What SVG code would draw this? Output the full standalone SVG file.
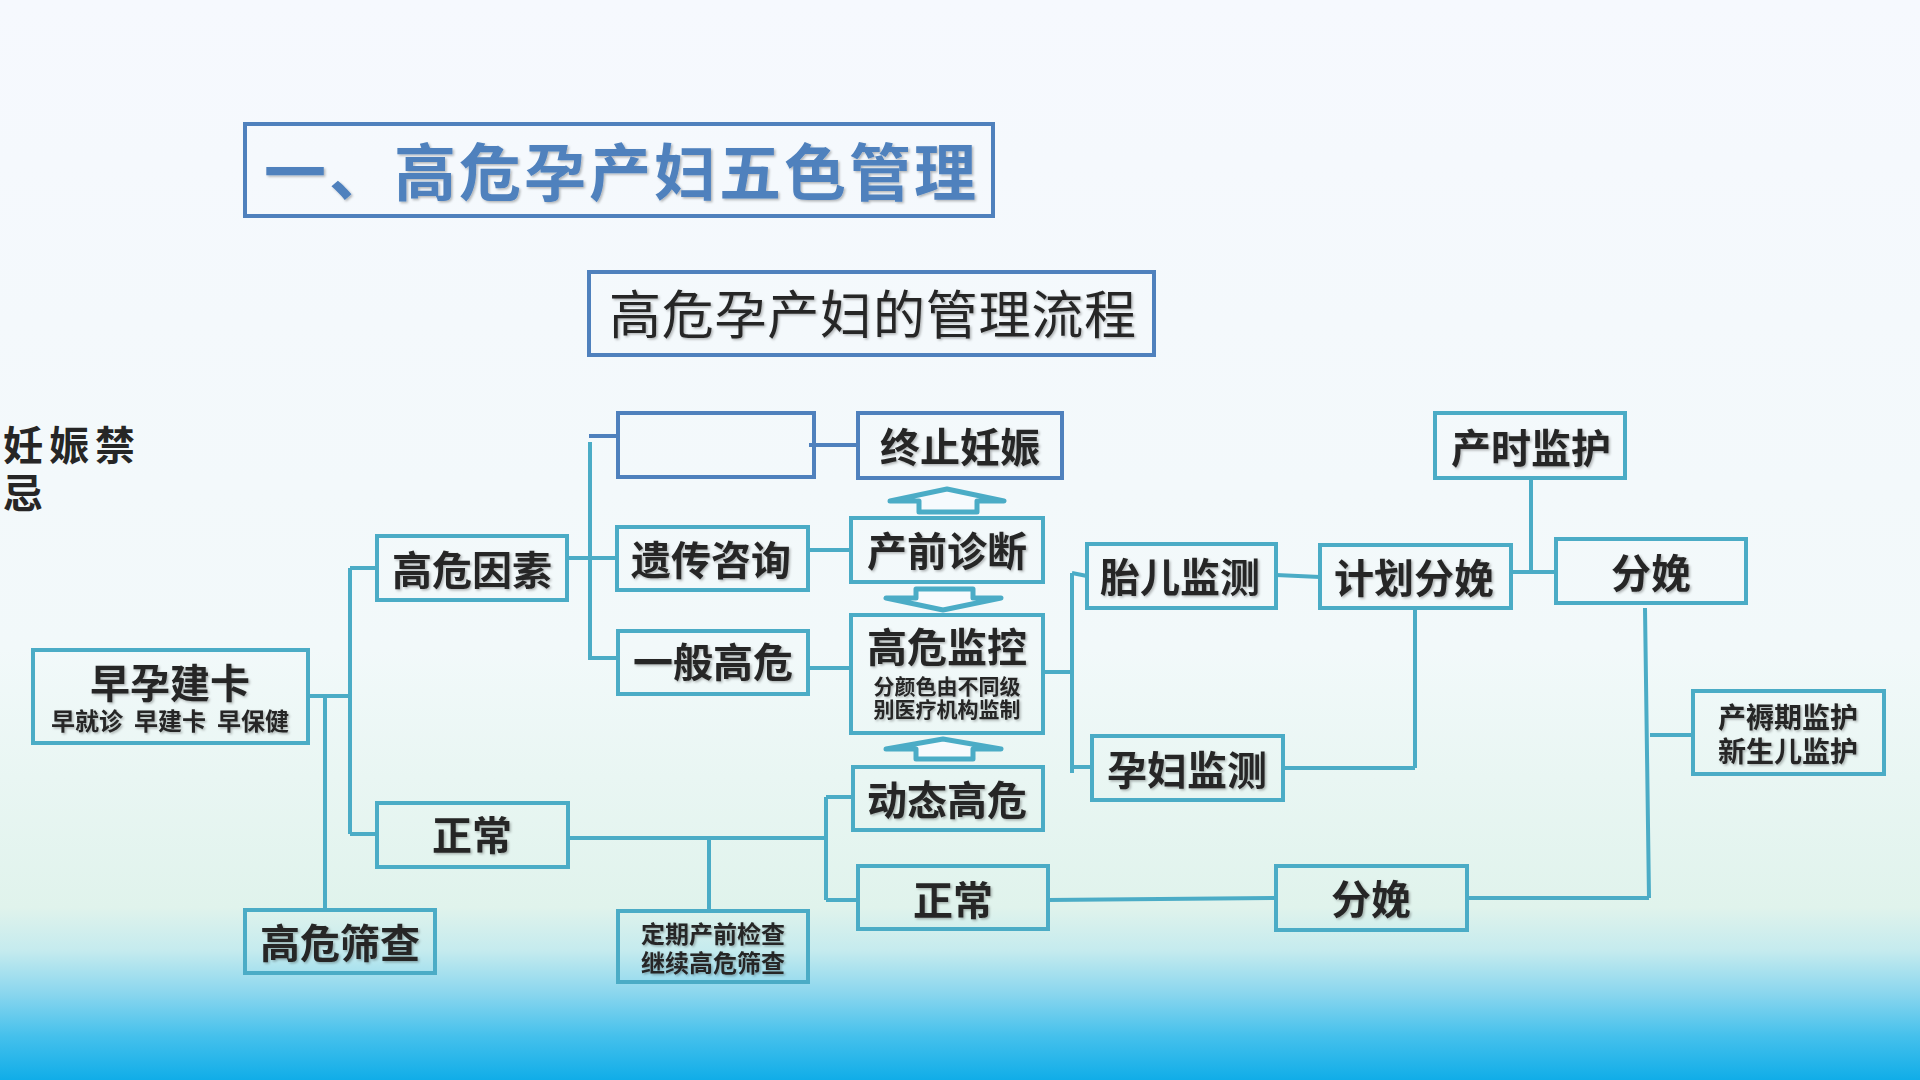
<svg xmlns="http://www.w3.org/2000/svg" width="1920" height="1080" viewBox="0 0 1920 1080">
  <defs>
    <linearGradient id="bg" x1="0" y1="0" x2="0" y2="1">
      <stop offset="0" stop-color="#f6f9fe"/>
      <stop offset="0.6" stop-color="#f2f9fa"/>
      <stop offset="0.84" stop-color="#e0f3ec"/>
      <stop offset="0.88" stop-color="#c5ebee"/>
      <stop offset="0.92" stop-color="#8ad6ee"/>
      <stop offset="0.96" stop-color="#44c0ec"/>
      <stop offset="1" stop-color="#10ade8"/>
    </linearGradient>
    <filter id="sh" x="-5%" y="-20%" width="110%" height="140%">
      <feDropShadow dx="1.5" dy="1.5" stdDeviation="1" flood-color="#000" flood-opacity="0.28"/>
    </filter>
    <style>
      .box { fill: none; stroke: #4bacc6; stroke-width: 4; }
      .bbox { fill: none; stroke: #4f81bd; stroke-width: 4; }
      .ln { fill: none; stroke: #4bacc6; stroke-width: 4; }
      .bln { fill: none; stroke: #4f81bd; stroke-width: 4; }
      .arr { fill: #f6fafd; stroke: #4bacc6; stroke-width: 5; stroke-linejoin: round; }
      text { font-family: 'Noto Sans CJK SC', 'Noto Sans', sans-serif; fill: #262626; dominant-baseline: central; }
      .t { font-size: 40px; font-weight: 700; text-anchor: middle; filter: url(#sh); }
      .s { font-size: 24px; font-weight: 700; text-anchor: middle; filter: url(#sh); }
    </style>
  </defs>
  <rect x="0" y="0" width="1920" height="1080" fill="url(#bg)"/>

  <g id="title">
    <rect x="245" y="124" width="748" height="92" class="bbox"/>
    <text x="264" y="169" font-size="62" font-weight="700" style="fill:#4f81bd" textLength="712" lengthAdjust="spacing" filter="url(#sh)">一、高危孕产妇五色管理</text>
  </g>
  <g id="subtitle">
    <rect x="589" y="272" width="565" height="83" class="bbox"/>
    <text x="609" y="311" font-size="52" font-weight="400" textLength="527" lengthAdjust="spacing" filter="url(#sh)">高危孕产妇的管理流程</text>
  </g>
  <g id="side-note">
    <text x="3" y="443" font-size="40" font-weight="700"><tspan x="3" y="443" letter-spacing="6">妊娠禁</tspan><tspan x="3" y="491">忌</tspan></text>
  </g>

  <g id="connectors">
    <path class="ln" d="M308 696 H350 M350 568 V834 M350 568 H377 M350 834 H377 M325 696 V910"/>
    <path class="ln" d="M567 558 H617 M590 442 V658 H618"/>
    <path class="bln" d="M589 436 H618 M809 445 H858"/>
    <path class="ln" d="M808 550 H852 M808 668 H852"/>
    <path class="ln" d="M1043 672 H1072 M1072 573 V773 M1072 573 L1087 576 M1072 767 H1092"/>
    <path class="ln" d="M1276 575 L1320 577 M1511 572 H1556 M1531 478 V572"/>
    <path class="ln" d="M1415 608 V768 M1282 768 H1415"/>
    <path class="ln" d="M1645 608 L1649 898 M1650 735 H1693 M1467 898 H1649"/>
    <path class="ln" d="M1048 900 L1276 898 M568 838 H826 M709 838 V911 M826 797 V900 M826 797 H853 M826 900 H858"/>
    <path class="arr" d="M947 489 L1004 501 L977 501 L977 512 L919 512 L919 501 L890 501 Z"/>
    <path class="arr" d="M916 589 L973 589 L973 598 L1001 598 L943 610 L886 598 L916 598 Z"/>
    <path class="arr" d="M943 739 L1001 749 L973 749 L973 759 L916 759 L916 749 L886 749 Z"/>
  </g>

  <g id="n-zaoyunjianka">
    <rect x="33" y="650" width="275" height="93" class="box"/>
    <text x="170" y="681" class="t">早孕建卡</text>
    <text x="170" y="719" class="s" xml:space="preserve">早就诊  早建卡  早保健</text>
  </g>
  <g id="n-gaoweiyinsu">
    <rect x="377" y="536" width="190" height="64" class="box"/>
    <text x="472" y="568" class="t">高危因素</text>
  </g>
  <g id="n-zhengchang1">
    <rect x="377" y="803" width="191" height="64" class="box"/>
    <text x="472" y="833" class="t">正常</text>
  </g>
  <g id="n-gaoweishaicha">
    <rect x="245" y="910" width="190" height="63" class="box"/>
    <text x="340" y="941" class="t">高危筛查</text>
  </g>
  <g id="n-empty">
    <rect x="618" y="413" width="196" height="64" class="bbox"/>
  </g>
  <g id="n-zhongzhirenshen">
    <rect x="858" y="413" width="204" height="65" class="bbox"/>
    <text x="960" y="445" class="t">终止妊娠</text>
  </g>
  <g id="n-yichuanzixun">
    <rect x="617" y="527" width="191" height="63" class="box"/>
    <text x="711" y="558" class="t">遗传咨询</text>
  </g>
  <g id="n-chanqianzhenduan">
    <rect x="851" y="518" width="192" height="64" class="box"/>
    <text x="947" y="549" class="t">产前诊断</text>
  </g>
  <g id="n-yibangaowei">
    <rect x="618" y="631" width="190" height="63" class="box"/>
    <text x="713" y="660" class="t">一般高危</text>
  </g>
  <g id="n-gaoweijiankong">
    <rect x="851" y="615" width="192" height="118" class="box"/>
    <text x="947" y="645" class="t">高危监控</text>
    <text class="s" style="font-size:21px"><tspan x="947" y="685">分颜色由不同级</tspan><tspan x="947" y="708">别医疗机构监制</tspan></text>
  </g>
  <g id="n-dongtaigaowei">
    <rect x="853" y="767" width="190" height="63" class="box"/>
    <text x="947" y="798" class="t">动态高危</text>
  </g>
  <g id="n-zhengchang2">
    <rect x="858" y="866" width="190" height="63" class="box"/>
    <text x="953" y="898" class="t">正常</text>
  </g>
  <g id="n-dingqi">
    <rect x="618" y="911" width="190" height="71" class="box"/>
    <text class="s"><tspan x="713" y="932">定期产前检查</tspan><tspan x="713" y="961">继续高危筛查</tspan></text>
  </g>
  <g id="n-taierjiance">
    <rect x="1087" y="544" width="189" height="64" class="box"/>
    <text x="1180" y="575" class="t">胎儿监测</text>
  </g>
  <g id="n-yunfujiance">
    <rect x="1092" y="736" width="191" height="64" class="box"/>
    <text x="1187" y="768" class="t">孕妇监测</text>
  </g>
  <g id="n-jihuafenmian">
    <rect x="1320" y="545" width="191" height="63" class="box"/>
    <text x="1414" y="576" class="t">计划分娩</text>
  </g>
  <g id="n-chanshijianhu">
    <rect x="1435" y="413" width="190" height="65" class="box"/>
    <text x="1531" y="446" class="t">产时监护</text>
  </g>
  <g id="n-fenmian1">
    <rect x="1556" y="539" width="190" height="64" class="box"/>
    <text x="1651" y="571" class="t">分娩</text>
  </g>
  <g id="n-chanruqi">
    <rect x="1693" y="691" width="191" height="83" class="box"/>
    <text class="s" style="font-size:28px"><tspan x="1788" y="716">产褥期监护</tspan><tspan x="1788" y="750">新生儿监护</tspan></text>
  </g>
  <g id="n-fenmian2">
    <rect x="1276" y="866" width="191" height="64" class="box"/>
    <text x="1371" y="897" class="t">分娩</text>
  </g>
</svg>
